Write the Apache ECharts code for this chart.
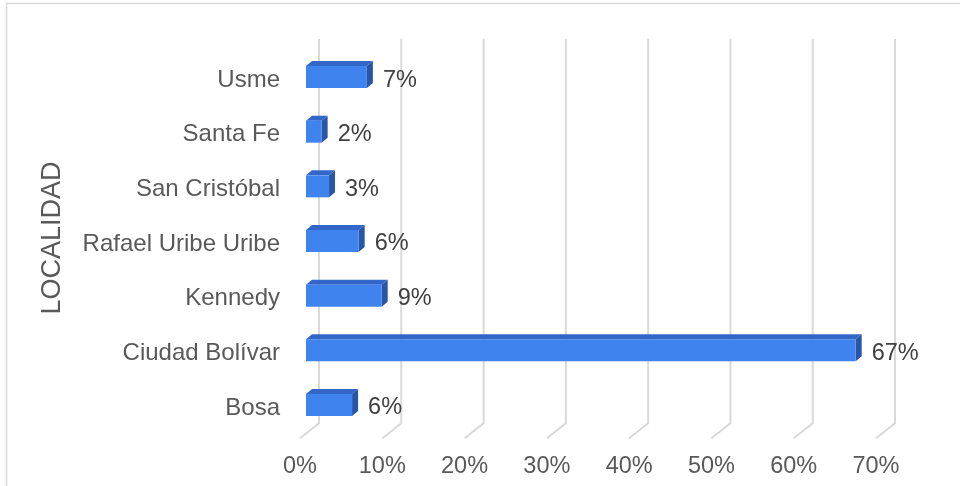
<!DOCTYPE html>
<html>
<head>
<meta charset="utf-8">
<script src="https://cdn.jsdelivr.net/npm/echarts@6/dist/echarts.min.js"></script>
<style>
  html, body { margin: 0; padding: 0; background: #fff; }
  #chart { width: 960px; height: 486px; }
</style>
</head>
<body>
<div id="chart"></div>
<script>
// localidades (de arriba hacia abajo)
const categories = ['Usme', 'Santa Fe', 'San Cristóbal', 'Rafael Uribe Uribe', 'Kennedy', 'Ciudad Bolívar', 'Bosa']
// porcentaje por localidad
const values = [7.4, 1.9, 2.8, 6.4, 9.2, 66.8, 5.6]
const xTicks = [0, 10, 20, 30, 40, 50, 60, 70]

const FONT = "'Liberation Sans', Arial, sans-serif"
const DEPTH_X = 19   // fondo del plano 3D
const BAR_DX = 6     // profundidad de la barra
const BAR_DY = 5

const chart = echarts.init(document.getElementById('chart'), null, { renderer: 'canvas' })

// lineas de cuadricula: pared del fondo + diagonal del piso
function renderGrid (params, api) {
  const cs = params.coordSys
  const x = api.coord([api.value(0), 0])[0]
  const yb = cs.y + cs.height
  return {
    type: 'polyline',
    shape: {
      points: [[x + DEPTH_X, cs.y - 14], [x + DEPTH_X, yb - 12], [x, yb + 3]]
    },
    style: { stroke: '#d9d9d9', lineWidth: 2, fill: null }
  }
}

// barra en 3D: frente, tapa y costado
function renderBar (params, api) {
  const idx = api.value(1)
  const val = api.value(0)
  const p0 = api.coord([0, idx])
  const p1 = api.coord([val, idx])
  const x0 = p0[0] + 6
  const x1 = p1[0] + 6
  const h = 22
  const yTop = p0[1] - 14
  return {
    type: 'group',
    children: [
      {
        type: 'polygon',
        shape: { points: [[x0, yTop], [x1, yTop], [x1 + BAR_DX, yTop - BAR_DY], [x0 + BAR_DX, yTop - BAR_DY]] },
        style: { fill: '#3366c9' }
      },
      {
        type: 'polygon',
        shape: { points: [[x1, yTop], [x1 + BAR_DX, yTop - BAR_DY], [x1 + BAR_DX, yTop + h - BAR_DY], [x1, yTop + h]] },
        style: { fill: '#2a55a6' }
      },
      {
        type: 'rect',
        shape: { x: x0, y: yTop, width: x1 - x0, height: h },
        style: { fill: '#3f84ee' }
      },
      {
        type: 'text',
        style: {
          x: x1 + BAR_DX + 10,
          y: p0[1],
          text: Math.round(val) + '%',
          fill: '#404040',
          font: '23.5px ' + FONT,
          verticalAlign: 'middle',
          align: 'left'
        }
      }
    ]
  }
}

chart.setOption({
  animation: false,
  backgroundColor: '#fff',
  textStyle: { fontFamily: FONT },
  graphic: [
    {
      type: 'rect',
      shape: { x: 6.5, y: 3.5, width: 1200, height: 1200 },
      style: { fill: null, stroke: '#d9d9d9', lineWidth: 1.5 },
      silent: true
    },
    {
      type: 'text',
      x: 53,
      y: 238,
      rotation: Math.PI / 2,
      style: {
        text: 'LOCALIDAD',
        fill: '#595959',
        font: '27px ' + FONT,
        align: 'center',
        verticalAlign: 'middle'
      },
      silent: true
    }
  ],
  grid: { left: 300, width: 576, top: 52.7, bottom: 50.7 },
  xAxis: {
    type: 'value',
    min: 0,
    max: 70,
    interval: 10,
    axisLine: { show: false },
    axisTick: { show: false },
    splitLine: { show: false },
    axisLabel: {
      formatter: '{value}%',
      color: '#595959',
      fontSize: 23.5,
      fontFamily: FONT,
      margin: 19
    }
  },
  yAxis: {
    type: 'category',
    data: categories,
    inverse: true,
    axisLine: { show: false },
    axisTick: { show: false },
    axisLabel: {
      color: '#595959',
      fontSize: 24,
      fontFamily: FONT,
      margin: 20
    }
  },
  series: [
    {
      type: 'custom',
      silent: true,
      clip: false,
      renderItem: renderGrid,
      data: xTicks.map(v => [v, 0]),
      z: 1
    },
    {
      type: 'custom',
      silent: true,
      clip: false,
      renderItem: renderBar,
      encode: { x: 0, y: 1 },
      data: values.map((v, i) => [v, i]),
      z: 2
    }
  ]
})
</script>
</body>
</html>
